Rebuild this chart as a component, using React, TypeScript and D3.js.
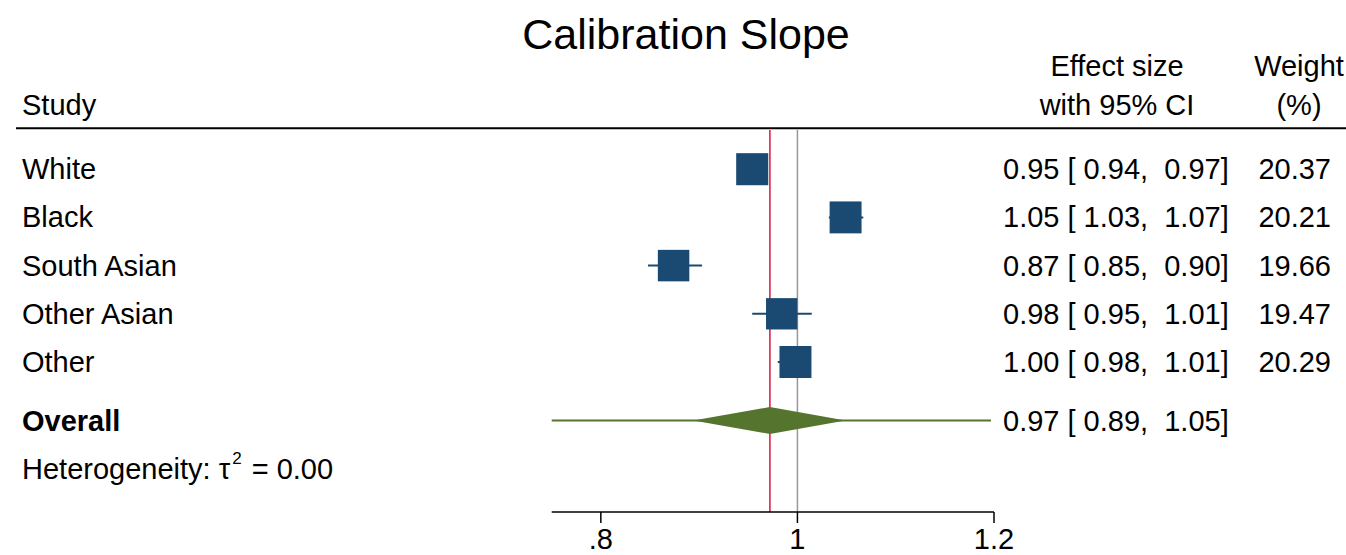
import React from "react";
import * as d3 from "d3";

// Subgroup calibration slopes with 95% confidence intervals
const studies = ["White", "Black", "South Asian", "Other Asian", "Other"];
const estimates = [0.954, 1.049, 0.874, 0.984, 0.998];
const lowerCI = [0.94, 1.032, 0.848, 0.954, 0.98];
const upperCI = [0.97, 1.067, 0.903, 1.0146, 1.012];
const weights = [20.37, 20.21, 19.66, 19.47, 20.29];

// Pooled estimate, its CI and the prediction interval
const overallEstimate = 0.972;
const overallCI = [0.894, 1.049];
const predictionInterval = [0.74, 1.197];
const tau2 = 0.0;

const xTicks = [0.8, 1, 1.2];
const xDomain = [0.75, 1.2];

const W = 1346;
const H = 555;
const FONT = "'Liberation Sans', Arial, Helvetica, sans-serif";
const FS = 29;

const BLUE = "#1a4a72";
const GREEN = "#55752f";
const RED = "#dc143c";

export default function App() {
  const x = d3.scaleLinear().domain(xDomain).range([551.7, 994]);
  const rowY = d3
    .scalePoint<string>()
    .domain(studies)
    .range([169.2, 362]);
  const overallY = 420.5;
  const hetY = 469;
  const axisY = 512;
  const refTop = 130;
  const side = d3.scaleSqrt().domain([0, 20.3]).range([0, 32]);

  const fmt = d3.format(".2f");
  const ciText = (e: number, l: number, u: number) =>
    `${fmt(e)} [ ${fmt(l)},  ${fmt(u)}]`;

  const clamp = (v: number) => Math.max(xDomain[0], Math.min(xDomain[1], v));

  const diamond = [
    [x(overallCI[0]), overallY],
    [x(overallEstimate), overallY - 13.5],
    [x(overallCI[1]), overallY],
    [x(overallEstimate), overallY + 13.5],
  ];

  const textCol = 1003;
  const weightRight = 1331;
  const pre = { whiteSpace: "pre" as const };

  return (
    <svg
      width={W}
      height={H}
      style={{ position: "absolute", left: 0, top: 0, background: "#fff" }}
      fontFamily={FONT}
    >
      <rect width={W} height={H} fill="#fff" />
      <text x={686} y={49} fontSize={43} textAnchor="middle" fill="#000">
        Calibration Slope
      </text>

      {/* column headers */}
      <text x={22} y={115} fontSize={FS}>Study</text>
      <text x={1117} y={76} fontSize={FS} textAnchor="middle">Effect size</text>
      <text x={1117} y={115} fontSize={FS} textAnchor="middle">with 95% CI</text>
      <text x={1299} y={76} fontSize={FS} textAnchor="middle">Weight</text>
      <text x={1299} y={115} fontSize={FS} textAnchor="middle">(%)</text>
      <line x1={16} x2={W} y1={128.3} y2={128.3} stroke="#000" strokeWidth={2} />

      {/* reference lines: no effect and pooled estimate */}
      <line x1={x(1)} x2={x(1)} y1={refTop} y2={axisY} stroke="#999" strokeWidth={1.5} />
      <line
        x1={x(overallEstimate)}
        x2={x(overallEstimate)}
        y1={refTop}
        y2={axisY}
        stroke={RED}
        strokeWidth={1.5}
      />

      {/* study rows */}
      {studies.map((s, i) => {
        const y = rowY(s)!;
        const sz = side(weights[i]);
        return (
          <g key={s}>
            <text x={22} y={y + 10} fontSize={FS}>{s}</text>
            <line
              x1={x(lowerCI[i])}
              x2={x(upperCI[i])}
              y1={y}
              y2={y}
              stroke={BLUE}
              strokeWidth={2}
            />
            <rect
              x={x(estimates[i]) - sz / 2}
              y={y - sz / 2}
              width={sz}
              height={sz}
              fill={BLUE}
            />
            <text x={textCol} y={y + 10} fontSize={FS} style={pre}>
              {ciText(estimates[i], lowerCI[i], upperCI[i])}
            </text>
            <text x={weightRight} y={y + 10} fontSize={FS} textAnchor="end">
              {fmt(weights[i])}
            </text>
          </g>
        );
      })}

      {/* overall */}
      <text x={22} y={overallY + 10} fontSize={FS} fontWeight="bold">Overall</text>
      <line
        x1={x(clamp(predictionInterval[0]))}
        x2={x(clamp(predictionInterval[1]))}
        y1={overallY}
        y2={overallY}
        stroke={GREEN}
        strokeWidth={2}
      />
      <polygon points={diamond.map((p) => p.join(",")).join(" ")} fill={GREEN} />
      <text x={textCol} y={overallY + 10} fontSize={FS} style={pre}>
        {ciText(overallEstimate, overallCI[0], overallCI[1])}
      </text>

      <text x={22} y={hetY + 10} fontSize={FS} style={pre}>
        {"Heterogeneity: τ"}
        <tspan fontSize={17} dx={2} dy={-15}>2</tspan>
        <tspan dx={2} dy={15}>{` = ${fmt(tau2)}`}</tspan>
      </text>

      {/* x axis */}
      <line x1={x(xDomain[0])} x2={x(xDomain[1])} y1={axisY} y2={axisY} stroke="#000" strokeWidth={1.5} />
      {xTicks.map((t) => (
        <g key={t}>
          <line x1={x(t)} x2={x(t)} y1={axisY} y2={axisY + 11} stroke="#000" strokeWidth={1.5} />
          <text x={x(t)} y={549} fontSize={FS} textAnchor="middle">
            {d3.format("~g")(t).replace(/^0\./, ".")}
          </text>
        </g>
      ))}
    </svg>
  );
}
